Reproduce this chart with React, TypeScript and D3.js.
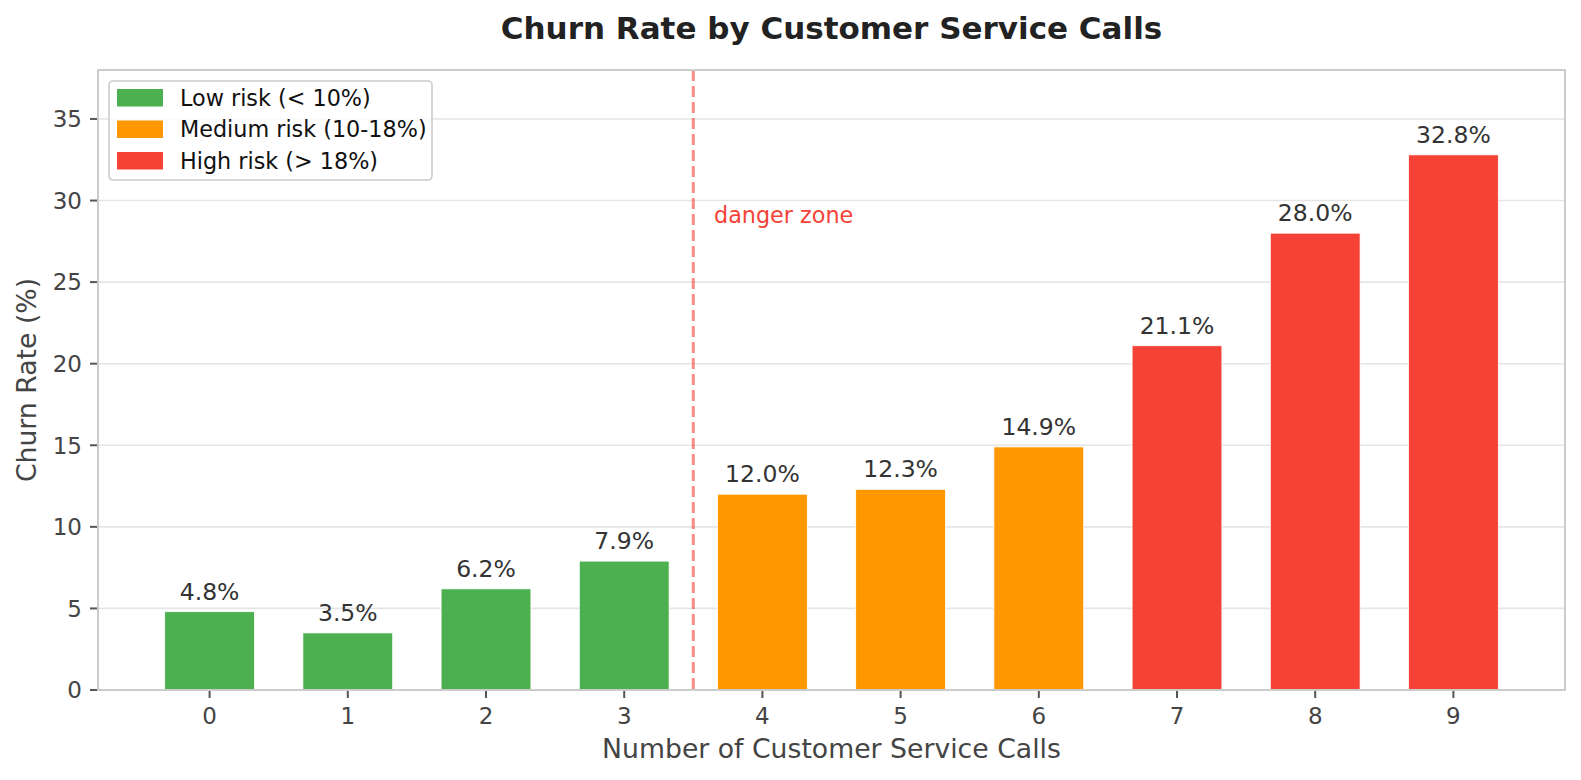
import React, { useEffect, useRef } from 'react';
import * as d3 from 'd3';

// data
const calls = [0, 1, 2, 3, 4, 5, 6, 7, 8, 9];
const churnRates = [4.8, 3.5, 6.2, 7.9, 12.0, 12.3, 14.9, 21.1, 28.0, 32.8];
const yTicks = [0, 5, 10, 15, 20, 25, 30, 35];
const riskLabels = ['Low risk (< 10%)', 'Medium risk (10-18%)', 'High risk (> 18%)'];
const riskColors = ['#4CAF50', '#FF9800', '#F44336'];
const dangerAt = 3.5;
const dangerLabel = 'danger zone';

const W = 1581;
const H = 780;
const FONT = '"DejaVu Sans", sans-serif';

const riskIndex = (v: number) => (v < 10 ? 0 : v <= 18 ? 1 : 2);

const App: React.FC = () => {
  const svgRef = useRef<SVGSVGElement>(null);

  useEffect(() => {
    document.body.style.margin = '0';
    if (!svgRef.current) return;

    const svg = d3.select(svgRef.current);
    svg.selectAll('*').remove();

    const left = 98, right = 1565, top = 70, bottom = 690;
    const barWidth = 0.65;

    // matplotlib-like margins around the bars
    const lo = calls[0] - barWidth / 2;
    const hi = calls[calls.length - 1] + barWidth / 2;
    const pad = (hi - lo) * 0.05;
    const x = d3.scaleLinear().domain([lo - pad, hi + pad]).range([left, right]);
    const y = d3.scaleLinear().domain([0, 38]).range([bottom, top]);

    svg.append('rect').attr('width', W).attr('height', H).attr('fill', 'white');

    // grid
    svg.append('g')
      .selectAll('line')
      .data(yTicks)
      .join('line')
      .attr('x1', left).attr('x2', right)
      .attr('y1', d => y(d)).attr('y2', d => y(d))
      .attr('stroke', '#e5e5e5')
      .attr('stroke-width', 1.6);

    // bars
    svg.append('g')
      .selectAll('rect')
      .data(churnRates)
      .join('rect')
      .attr('x', (_, i) => x(calls[i] - barWidth / 2))
      .attr('width', (_, i) => x(calls[i] + barWidth / 2) - x(calls[i] - barWidth / 2))
      .attr('y', d => y(d))
      .attr('height', d => y(0) - y(d))
      .attr('fill', d => riskColors[riskIndex(d)])
      .attr('stroke', 'white')
      .attr('stroke-width', 0.8);

    // value labels
    svg.append('g')
      .selectAll('text')
      .data(churnRates)
      .join('text')
      .attr('x', (_, i) => x(calls[i]))
      .attr('y', d => y(d) - 12)
      .attr('text-anchor', 'middle')
      .attr('font-family', FONT)
      .attr('font-size', 23.5)
      .attr('fill', '#333')
      .text(d => `${d.toFixed(1)}%`);

    // danger line
    svg.append('line')
      .attr('x1', x(dangerAt)).attr('x2', x(dangerAt))
      .attr('y1', top).attr('y2', bottom)
      .attr('stroke', '#F44336')
      .attr('stroke-opacity', 0.6)
      .attr('stroke-width', 3)
      .attr('stroke-dasharray', '11,5');

    svg.append('text')
      .attr('x', x(dangerAt + 0.15))
      .attr('y', y(28.6))
      .attr('font-family', FONT)
      .attr('font-size', 22.3)
      .attr('fill', '#F44336')
      .text(dangerLabel);

    // frame
    svg.append('rect')
      .attr('x', left).attr('y', top)
      .attr('width', right - left).attr('height', bottom - top)
      .attr('fill', 'none')
      .attr('stroke', '#cccccc')
      .attr('stroke-width', 2);

    // y axis
    const yAxis = svg.append('g');
    yAxis.selectAll('line')
      .data(yTicks)
      .join('line')
      .attr('x1', left - 8).attr('x2', left - 1)
      .attr('y1', d => y(d)).attr('y2', d => y(d))
      .attr('stroke', '#555').attr('stroke-width', 2);
    yAxis.selectAll('text')
      .data(yTicks)
      .join('text')
      .attr('x', left - 16)
      .attr('y', d => y(d))
      .attr('dy', '0.36em')
      .attr('text-anchor', 'end')
      .attr('font-family', FONT)
      .attr('font-size', 23)
      .attr('fill', '#444')
      .text(d => d);

    // x axis
    const xAxis = svg.append('g');
    xAxis.selectAll('line')
      .data(calls)
      .join('line')
      .attr('x1', d => x(d)).attr('x2', d => x(d))
      .attr('y1', bottom + 1).attr('y2', bottom + 8)
      .attr('stroke', '#555').attr('stroke-width', 2);
    xAxis.selectAll('text')
      .data(calls)
      .join('text')
      .attr('x', d => x(d))
      .attr('y', 724)
      .attr('text-anchor', 'middle')
      .attr('font-family', FONT)
      .attr('font-size', 23)
      .attr('fill', '#444')
      .text(d => d);

    // axis titles
    svg.append('text')
      .attr('x', (left + right) / 2)
      .attr('y', 758)
      .attr('text-anchor', 'middle')
      .attr('font-family', FONT)
      .attr('font-size', 26.7)
      .attr('fill', '#444')
      .text('Number of Customer Service Calls');

    svg.append('text')
      .attr('transform', `translate(36,${(top + bottom) / 2}) rotate(-90)`)
      .attr('text-anchor', 'middle')
      .attr('font-family', FONT)
      .attr('font-size', 26.7)
      .attr('fill', '#444')
      .text('Churn Rate (%)');

    // title
    svg.append('text')
      .attr('x', (left + right) / 2)
      .attr('y', 39)
      .attr('text-anchor', 'middle')
      .attr('font-family', FONT)
      .attr('font-size', 31)
      .attr('font-weight', 'bold')
      .attr('fill', '#222')
      .text('Churn Rate by Customer Service Calls');

    // legend
    const lg = svg.append('g').attr('transform', 'translate(109,81)');
    lg.append('rect')
      .attr('width', 323).attr('height', 99)
      .attr('rx', 4)
      .attr('fill', 'white').attr('fill-opacity', 0.8)
      .attr('stroke', '#cccccc').attr('stroke-width', 1.6);
    const rows = lg.selectAll('g')
      .data(riskLabels)
      .join('g')
      .attr('transform', (_, i) => `translate(0,${8 + i * 31.5})`);
    rows.append('rect')
      .attr('x', 8).attr('width', 46).attr('height', 17.5)
      .attr('fill', (_, i) => riskColors[i]);
    rows.append('text')
      .attr('x', 71).attr('y', 16.5)
      .attr('font-family', FONT)
      .attr('font-size', 22.3)
      .attr('fill', '#111')
      .text(d => d);
  }, []);

  return <svg ref={svgRef} width={W} height={H} style={{ display: 'block' }}></svg>;
};

export default App;
